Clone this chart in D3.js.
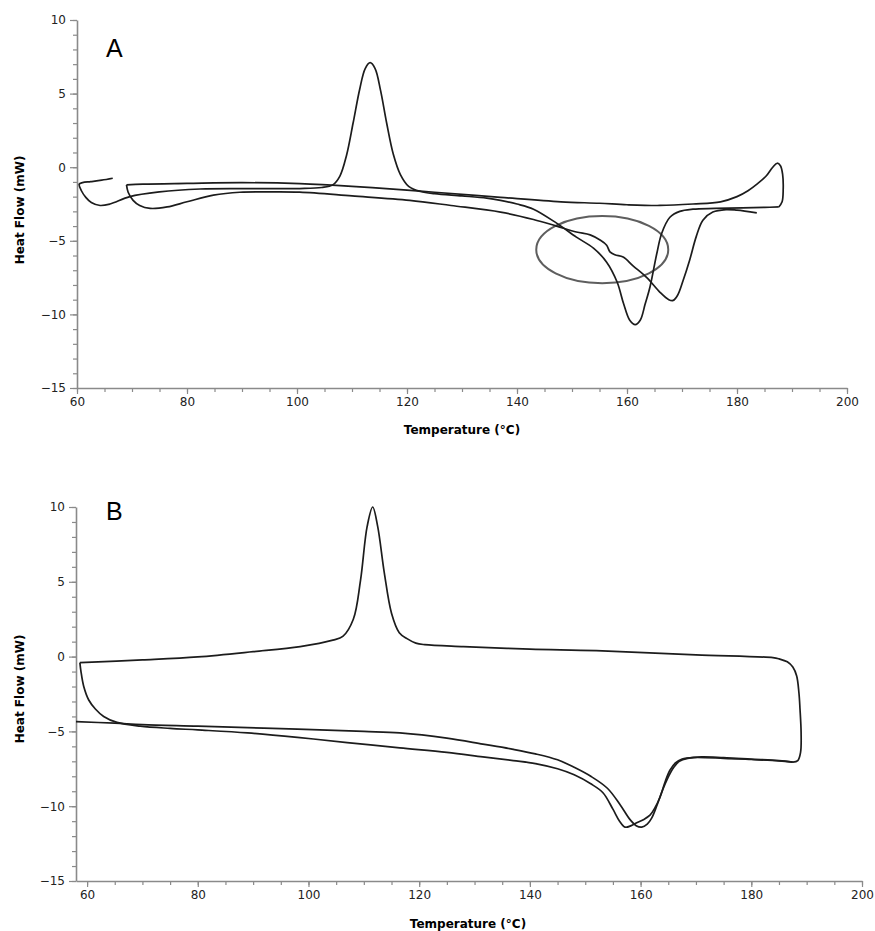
<!DOCTYPE html>
<html>
<head>
<meta charset="utf-8">
<script src="https://cdn.jsdelivr.net/npm/d3@7"></script>
<style>
  body { margin: 0; background: #fff; }
  text { font-family: "DejaVu Sans", Verdana, sans-serif; }
</style>
</head>
<body>
<div id="chart"></div>
<script>
// tick values shared by both panels
var xMajor = [60, 80, 100, 120, 140, 160, 180, 200];
var yMajor = [-15, -10, -5, 0, 5, 10];
var xTitle = "Temperature (°C)";
var yTitle = "Heat Flow (mW)";

// Panel A traces, [temperature °C, heat flow mW]
var heatA1 = [[66.5,-0.75],[64.5,-0.88],[62.5,-0.98],[61,-1.05],[60.4,-1.15],[60.8,-1.6],[61.6,-2.05],[62.6,-2.4],
  [64.2,-2.6],[66,-2.5],[69.6,-2.0],[75,-1.68],[82.4,-1.48],[90,-1.45],[100.5,-1.45],[104.5,-1.38],[106.5,-1.2],
  [107.8,-0.6],[109,0.8],[110.2,3.0],[111.4,5.3],[112.4,6.7],[113.3,7.1],[114.2,6.7],[115.2,5.2],[116.3,3.0],
  [117.5,0.9],[118.8,-0.5],[120.3,-1.3],[122.5,-1.65],[125,-1.8],[130,-1.95],[134.5,-2.1],[137,-2.25],[140,-2.5],
  [143,-2.85],[147.2,-3.8],[150.8,-4.75],[153.9,-5.5],[156.3,-6.45],[158.2,-7.8],[159.4,-9.3],[160.5,-10.4],
  [161.5,-10.7],[162.4,-10.4],[163.3,-9.3],[164.2,-8.1],[165.4,-5.9],[166.3,-4.5],[167.8,-3.4],[169.6,-3.0],
  [172,-2.85],[176,-2.8],[181,-2.76],[185,-2.73],[187.6,-2.7]];
var coolA = [[187.6,-2.7],[188.2,-2.35],[188.4,-1.5],[188.3,-0.5],[187.9,0.1],[187.3,0.27],[186.5,0.0],[185.3,-0.6],
  [183.8,-1.1],[182,-1.6],[180,-2.0],[177,-2.35],[172,-2.5],[166,-2.6],[160,-2.55],[155,-2.45],[148,-2.35],
  [137,-2.05],[125,-1.7],[120,-1.56],[110,-1.3],[100.5,-1.12],[90,-1.05],[80,-1.1],[72,-1.15],[69,-1.2]];
var heatA2 = [[69,-1.2],[69.3,-1.7],[70.2,-2.25],[71.4,-2.6],[73.3,-2.8],[76.4,-2.7],[80,-2.35],[84.8,-1.9],
  [89.6,-1.7],[95,-1.68],[100.5,-1.7],[110,-1.95],[120.5,-2.25],[128,-2.6],[137,-3.05],[143,-3.55],[147.2,-4.0],
  [150.8,-4.4],[153.3,-4.6],[155.1,-4.95],[156.3,-5.3],[156.9,-5.75],[157.8,-5.95],[159.3,-6.1],[161.1,-6.7],
  [163.6,-7.5],[166,-8.5],[167.6,-9.0],[168.4,-9.05],[169.2,-8.7],[170.2,-7.7],[171.4,-6.3],[172.6,-4.7],
  [173.8,-3.6],[175.6,-3.05],[178,-2.88],[180,-2.92],[183.6,-3.1]];
// circled region in panel A: centre and radii in data units
var ringCenter = [155.5, -5.6];
var ringRadii = [12, 2.28];

// Panel B traces
var heatB1 = [[58,-4.35],[65,-4.45],[70,-4.55],[80,-4.65],[89,-4.75],[98,-4.85],[110,-5.0],[116.5,-5.1],
  [125,-5.45],[131.5,-5.85],[137,-6.2],[141,-6.5],[145,-6.9],[148,-7.4],[151,-8.0],[154,-8.8],[156.3,-9.9],
  [158.1,-10.9],[159.2,-11.3],[160.2,-11.4],[161.2,-11.2],[162,-10.8],[163,-9.9],[164,-8.9],[164.8,-8.2],
  [166,-7.4],[167,-7.0],[168.5,-6.8],[171,-6.7],[175,-6.75],[180,-6.85],[185,-6.95],[187.5,-7.05]];
var coolB = [[187.5,-7.05],[188.4,-6.95],[188.9,-6.4],[189,-5.1],[188.8,-3.5],[188.6,-2.4],[188.2,-1.3],
  [187.5,-0.7],[186.5,-0.35],[185,-0.15],[183.9,-0.07],[170,0.12],[152,0.4],[140,0.5],[128,0.67],[121,0.8],
  [119.4,0.9],[117.8,1.2],[116.4,1.6],[115,2.9],[113.7,5.6],[112.5,8.7],[111.6,10.0],[110.6,8.7],[109.4,5.1],
  [108.1,2.5],[106.2,1.35],[104.4,1.1],[98.5,0.67],[90,0.33],[80,-0.02],[70,-0.22],[58.7,-0.4]];
var heatB2 = [[58.7,-0.4],[58.9,-1.0],[59.4,-2.0],[60.3,-2.9],[61.5,-3.5],[63,-4.0],[65.4,-4.4],[69.6,-4.65],
  [75,-4.8],[80,-4.9],[89,-5.1],[98,-5.4],[107,-5.75],[116.5,-6.1],[125,-6.4],[131.5,-6.7],[137,-6.95],
  [141,-7.15],[145,-7.5],[148,-7.9],[151,-8.5],[153.2,-9.1],[155,-10.2],[156.2,-11.0],[157.2,-11.4],
  [158.3,-11.3],[159.3,-11.1],[160.5,-10.9],[161.7,-10.6],[162.6,-10.1],[163.5,-9.4],[164.5,-8.3],
  [165.3,-7.6],[166.3,-7.1],[167.5,-6.85],[169.5,-6.75],[175,-6.8],[180,-6.88],[185,-6.97],[187.5,-7.05]];

var svg = d3.select("#chart")
  .append("svg")
  .attr("width", 875)
  .attr("height", 931)
  .style("background-color", "white");

var axisGrey = "#8a8a8a";

function drawAxes(x, y, xStart, titleY, titleX, yTitleY, letter, letterY) {
  var x0 = x.range()[0], yBottom = y.range()[0];

  // minor ticks
  svg.append("g")
    .attr("transform", "translate(0," + yBottom + ")")
    .call(d3.axisBottom(x).tickValues(d3.range(xStart, 201, 5)).tickSize(4).tickFormat(""))
    .call(g => g.select(".domain").remove());
  svg.append("g")
    .attr("transform", "translate(" + x0 + ",0)")
    .call(d3.axisLeft(y).tickValues(d3.range(-15, 11, 1)).tickSize(4).tickFormat(""))
    .call(g => g.select(".domain").remove());

  // major ticks + labels
  svg.append("g")
    .attr("class", "axis")
    .attr("transform", "translate(0," + yBottom + ")")
    .call(d3.axisBottom(x).tickValues(xMajor).tickSize(6).tickSizeOuter(0).tickPadding(3).tickFormat(d3.format("d")));
  svg.append("g")
    .attr("class", "axis")
    .attr("transform", "translate(" + x0 + ",0)")
    .call(d3.axisLeft(y).tickValues(yMajor).tickSize(7).tickSizeOuter(0).tickPadding(4).tickFormat(d3.format("d")));

  svg.append("text")
    .attr("x", titleX)
    .attr("y", titleY)
    .attr("text-anchor", "middle")
    .style("font-size", "12px")
    .style("font-weight", "bold")
    .text(xTitle);

  svg.append("text")
    .attr("transform", "translate(24," + yTitleY + ") rotate(-90)")
    .attr("text-anchor", "middle")
    .style("font-size", "12px")
    .style("font-weight", "bold")
    .text(yTitle);

  svg.append("text")
    .attr("x", 106)
    .attr("y", letterY)
    .style("font-family", "'Liberation Sans', Arial, sans-serif")
    .style("font-size", "25px")
    .text(letter);
}

function drawTrace(x, y, data) {
  var line = d3.line()
    .x(d => x(d[0]))
    .y(d => y(d[1]))
    .curve(d3.curveCatmullRom.alpha(0.5));
  svg.append("path")
    .datum(data)
    .attr("d", line)
    .attr("fill", "none")
    .attr("stroke", "#1c1c1c")
    .attr("stroke-width", 1.7)
    .attr("stroke-linejoin", "round");
}

// Panel A
var xA = d3.scaleLinear().domain([60, 200]).range([77, 847]);
var yA = d3.scaleLinear().domain([-15, 10]).range([388, 20]);
drawAxes(xA, yA, 60, 434, 462, 210, "A", 57);

svg.append("ellipse")
  .attr("cx", xA(ringCenter[0]))
  .attr("cy", yA(ringCenter[1]))
  .attr("rx", xA(ringCenter[0] + ringRadii[0]) - xA(ringCenter[0]))
  .attr("ry", yA(ringCenter[1] - ringRadii[1]) - yA(ringCenter[1]))
  .attr("fill", "none")
  .attr("stroke", "#5e5e5e")
  .attr("stroke-width", 2);

drawTrace(xA, yA, heatA1);
drawTrace(xA, yA, coolA);
drawTrace(xA, yA, heatA2);

// Panel B
var xB = d3.scaleLinear().domain([58, 200]).range([76, 862]);
var yB = d3.scaleLinear().domain([-15, 10]).range([881, 507]);
drawAxes(xB, yB, 60, 928, 468, 689, "B", 520);

drawTrace(xB, yB, heatB1);
drawTrace(xB, yB, coolB);
drawTrace(xB, yB, heatB2);

svg.selectAll(".tick line").attr("stroke", axisGrey).attr("stroke-width", 1.2);
svg.selectAll(".axis .domain").attr("stroke", axisGrey).attr("stroke-width", 1.6);
svg.selectAll(".tick text").style("font-size", "12px").attr("fill", "#222");
</script>
</body>
</html>
